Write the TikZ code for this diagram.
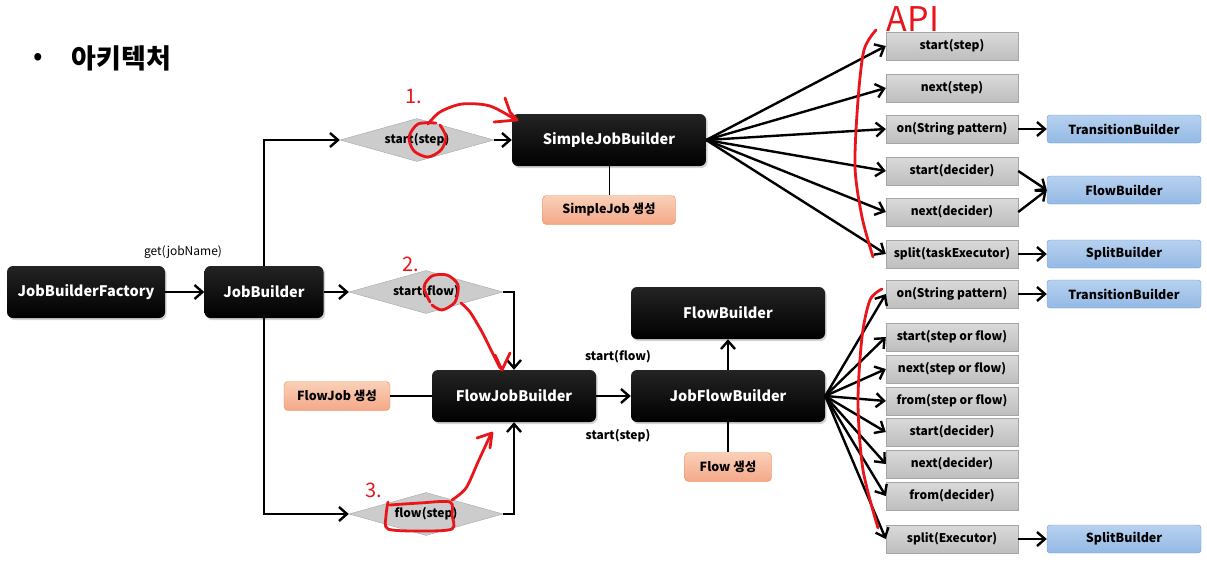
\documentclass[tikz,border=0pt]{standalone}
\usepackage{fontspec}
\setmainfont{Noto Sans CJK KR}
\usetikzlibrary{shapes.geometric,arrows.meta,shadows}

\definecolor{graytop}{HTML}{DADADA}
\definecolor{graybot}{HTML}{BEBEBE}
\definecolor{grayedge}{HTML}{A6A6A6}
\definecolor{bluetop}{HTML}{B7D1EF}
\definecolor{bluebot}{HTML}{93B9E5}
\definecolor{blueedge}{HTML}{6C9ED8}
\definecolor{salmontop}{HTML}{FAD0B8}
\definecolor{salmonbot}{HTML}{F4A888}
\definecolor{salmonedge}{HTML}{EC8A50}
\definecolor{penred}{HTML}{E8151B}

\tikzset{
  darkbox/.style={rounded corners=6pt, top color=black!86, bottom color=black,
    text=white, font=\bfseries\fontsize{14.5}{16}\selectfont,
    minimum height=52pt, inner sep=0pt,
    drop shadow={shadow xshift=1.5pt, shadow yshift=-2pt, opacity=0.35}},
  choice/.style={diamond, aspect=3.5, draw=grayedge, fill=gray!40, minimum width=154pt,
    minimum height=43pt, inner sep=0pt, font=\bfseries\fontsize{12}{14}\selectfont},
  apibox/.style={draw=grayedge, top color=graytop, bottom color=graybot,
    minimum width=132pt, minimum height=28pt, inner sep=0pt,
    font=\bfseries\fontsize{12}{14}\selectfont},
  nextbox/.style={draw=blueedge, rounded corners=3pt, top color=bluetop, bottom color=bluebot,
    minimum width=154pt, minimum height=28pt, inner sep=0pt,
    font=\bfseries\fontsize{12.5}{14}\selectfont},
  genbox/.style={draw=salmonedge, rounded corners=4pt, top color=salmontop, bottom color=salmonbot,
    minimum height=29pt, inner sep=0pt, font=\bfseries\fontsize{12.5}{14}\selectfont},
  link/.style={line width=2.4pt, -{Straight Barb[length=8pt,width=14pt,line width=2.4pt]}},
  pen/.style={penred, line width=2.8pt, line cap=round, line join=round},
  handtext/.style={text=penred, inner sep=0pt}
}

\begin{document}
\begin{tikzpicture}[x=1pt,y=-1pt]
  \useasboundingbox (0,0) rectangle (1207,563);

  % title
  \node[font=\fontsize{28}{28}\selectfont] (dot) at (38,59) {•};
  \node[font=\bfseries\fontsize{27}{30}\selectfont, anchor=west] (title) at (68,58) {아키텍처};

  % builders
  \node[darkbox, minimum width=158pt] (jbf) at (86,292) {JobBuilderFactory};
  \node[darkbox, minimum width=119pt] (jb) at (264,292) {JobBuilder};
  \node[font=\fontsize{12}{14}\selectfont] (getlbl) at (183,252) {get(jobName)};

  \node[choice] (d1) at (417,140) {start(step)};
  \node[choice] (d2) at (426,292) {start(flow)};
  \node[choice] (d3) at (426,514) {flow(step)};

  \node[darkbox, minimum width=194pt] (sjb) at (609,140) {SimpleJobBuilder};
  \node[genbox, minimum width=133pt] (sjgen) at (609,210) {SimpleJob 생성};

  \node[darkbox, minimum width=164pt] (fjb) at (514,396) {FlowJobBuilder};
  \node[genbox, minimum width=106pt] (fjgen) at (337,396) {FlowJob 생성};

  \node[darkbox, minimum width=194pt] (jfb) at (728,396) {JobFlowBuilder};
  \node[darkbox, minimum width=194pt] (fb) at (728,313) {FlowBuilder};
  \node[genbox, minimum width=87pt] (fgen) at (728,467) {Flow 생성};
  \node[font=\bfseries\fontsize{12}{14}\selectfont] (sflow) at (618,357) {start(flow)};
  \node[font=\bfseries\fontsize{12}{14}\selectfont] (sstep) at (618,436) {start(step)};

  \draw[link] (jbf) -- (jb);
  \draw[link] (jb) -- (d2);
  \draw[link] (jb.north) |- (d1.west);
  \draw[link] (jb.south) |- (d3.west);
  \draw[link] (d1) -- (sjb);
  \draw[link] (d2.east) -| (fjb.north);
  \draw[link] (d3.east) -| (fjb.south);
  \draw[line width=1pt] (sjb) -- (sjgen);
  \draw[line width=2.4pt] (fjgen) -- (fjb);
  \draw[link] (fjb) -- (jfb);
  \draw[link] (jfb) -- (fb);
  \draw[line width=2.4pt] (jfb) -- (fgen);

  % API of SimpleJobBuilder
  \foreach \n/\y/\t in {a1/46/start(step), a2/88/next(step), a3/129/on(String pattern),
      a4/171/start(decider), a5/212/next(decider), a6/254/split(taskExecutor)} {
    \node[apibox] (\n) at (952,\y) {\t};
    \draw[link] (sjb.east) -- (\n.west);
  }
  \node[nextbox] (tb1) at (1124,129) {TransitionBuilder};
  \node[nextbox] (fb1) at (1124,190) {FlowBuilder};
  \node[nextbox] (sb1) at (1124,254) {SplitBuilder};
  \draw[link] (a3) -- (tb1);
  \draw[link] (a4.east) -- (fb1.west);
  \draw[link] (a5.east) -- (fb1.west);
  \draw[link] (a6) -- (sb1);

  % API of JobFlowBuilder
  \foreach \n/\y/\t in {b1/294/on(String pattern), b2/337/start(step or flow),
      b3/369/next(step or flow), b4/401/from(step or flow), b5/432/start(decider),
      b6/464/next(decider), b7/496/from(decider), b8/539/split(Executor)} {
    \node[apibox] (\n) at (952,\y) {\t};
    \draw[link] (jfb.east) -- (\n.west);
  }
  \node[nextbox] (tb2) at (1124,294) {TransitionBuilder};
  \node[nextbox] (sb2) at (1124,539) {SplitBuilder};
  \draw[link] (b1) -- (tb2);
  \draw[link] (b8) -- (sb2);

  % red notes
  \node[handtext, font=\fontsize{20}{20}\selectfont] (one) at (414,96) {1.};
  \draw[pen] plot[smooth] coordinates {(436,123) (418,124) (409,137) (414,151) (428,157) (441,150) (446,137) (440,125)};
  \draw[pen] plot[smooth] coordinates {(428,124) (440,112) (462,104) (490,106) (516,120)};
  \draw[pen] (505,98) -- (510,112) -- (517,120) -- (494,122);

  \node[handtext, font=\fontsize{20}{20}\selectfont] (two) at (411,264) {2.};
  \draw[pen] plot[smooth] coordinates {(430,302) (424,287) (432,276) (447,275) (458,285) (455,302) (442,310) (432,305)};
  \draw[pen] plot[smooth] coordinates {(461,303) (470,312) (482,332) (492,352) (500,368)};
  \draw[pen] (495,355) -- (502,370) -- (510,353);

  \node[handtext, font=\fontsize{20}{20}\selectfont] (three) at (374,490) {3.};
  \draw[pen] plot[smooth] coordinates {(388,502) (386,516) (388,529) (420,531) (452,529) (452,515) (450,502) (420,503) (390,505)};
  \draw[pen] plot[smooth] coordinates {(452,500) (466,488) (478,462) (490,436)};
  \draw[pen] (477,438) -- (492,433) -- (490,448);

  \node[handtext, font=\fontsize{34}{34}\selectfont] (api) at (913,19) {API};
  \draw[pen] plot[smooth] coordinates {(876,30) (864,50) (858,100) (855,167) (862,217) (873,257)};
  \draw[pen] plot[smooth] coordinates {(882,289) (870,300) (862,337) (858,403) (863,470) (878,528)};
\end{tikzpicture}
\end{document}
